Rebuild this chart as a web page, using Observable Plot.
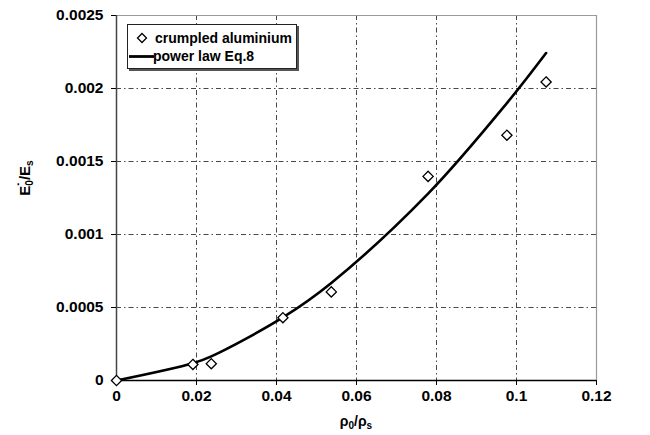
<!DOCTYPE html>
<html>
<head>
<meta charset="utf-8">
<script src="https://cdn.jsdelivr.net/npm/d3@7"></script>
<script src="https://cdn.jsdelivr.net/npm/@observablehq/plot@0.6"></script>
<style>
  html, body { margin: 0; padding: 0; background: #fff; }
  #wrap { position: relative; width: 650px; height: 435px; font-family: "Liberation Sans", Arial, sans-serif; }
  #legend {
    position: absolute; left: 127px; top: 24px; width: 168px; height: 43px;
    background: #fff; border: 1px solid #222; box-shadow: 2px 2px 0 #555;
    font-size: 14px; font-weight: bold; color: #000;
  }
  #legend .row { position: absolute; left: 0; height: 18px; line-height: 18px; white-space: nowrap; }
  #legend svg { position: absolute; top: 0; }
  #legend span { position: absolute; }
</style>
</head>
<body>
<div id="wrap"></div>
<script>
// Axis ticks and their printed labels
const xTicks = [0, 0.02, 0.04, 0.06, 0.08, 0.1, 0.12];
const xTickLabels = ["0", "0.02", "0.04", "0.06", "0.08", "0.1", "0.12"];
const yTicks = [0, 0.0005, 0.001, 0.0015, 0.002, 0.0025];
const yTickLabels = ["0", "0.0005", "0.001", "0.0015", "0.002", "0.0025"];

// Measured relative modulus vs relative density (crumpled aluminium)
const density = [0, 0.0191, 0.0237, 0.0416, 0.0537, 0.0779, 0.0976, 0.1074];
const modulus = [0, 0.00011, 0.000115, 0.00043, 0.000607, 0.001398, 0.00168, 0.002045];

// Power law (Eq. 8) evaluated at the same densities
const fitDensity = [0, 0.0191, 0.0237, 0.0416, 0.0537, 0.0779, 0.0976, 0.1074];
const fitModulus = [0, 0.000118, 0.000165, 0.000432, 0.000668, 0.00128, 0.0019, 0.002243];

const points = density.map((x, i) => ({x, y: modulus[i]}));
const fit = fitDensity.map((x, i) => ({x, y: fitModulus[i]}));

const xLabel = new Map(xTicks.map((d, i) => [d, xTickLabels[i]]));
const yLabel = new Map(yTicks.map((d, i) => [d, yTickLabels[i]]));

const dashDot = "5,3,1.5,3";

const chart = Plot.plot({
  width: 650,
  height: 435,
  marginLeft: 116,
  marginRight: 54,
  marginTop: 15,
  marginBottom: 55,
  style: {
    fontFamily: "'Liberation Sans', Arial, sans-serif",
    fontWeight: "bold",
    color: "#000",
    background: "#fff",
    overflow: "visible"
  },
  x: {domain: [0, 0.12]},
  y: {domain: [0, 0.0025]},
  marks: [
    Plot.gridX(xTicks, {stroke: "#333", strokeOpacity: 1, strokeWidth: 0.9, strokeDasharray: dashDot}),
    Plot.gridY(yTicks, {stroke: "#333", strokeOpacity: 1, strokeWidth: 0.9, strokeDasharray: dashDot}),
    Plot.ruleX([0.12], {stroke: "#9a9a9a", strokeWidth: 1.2}),
    Plot.ruleY([0.0025], {stroke: "#9a9a9a", strokeWidth: 1.2}),
    Plot.axisX(xTicks, {tickFormat: d => xLabel.get(d), tickSize: 5, tickPadding: 4, label: null, stroke: "#000"}),
    Plot.axisY(yTicks, {tickFormat: d => yLabel.get(d), tickSize: 5, tickPadding: 8, label: null, stroke: "#000"}),
    Plot.ruleX([0], {stroke: "#444", strokeWidth: 1.5}),
    Plot.ruleY([0], {stroke: "#000", strokeWidth: 1.5}),
    Plot.line(fit, {x: "x", y: "y", curve: "catmull-rom", stroke: "#000", strokeWidth: 2.6}),
    Plot.dot(points, {x: "x", y: "y", symbol: "diamond2", r: 4.6, fill: "#fff", stroke: "#000", strokeWidth: 1.3})
  ]
});

const svg = d3.select(chart);
// tick labels: bold, slightly larger than the legend text
svg.selectAll("[aria-label$='tick label'] text")
  .style("font-family", "'Liberation Sans', Arial, sans-serif")
  .style("font-weight", "bold")
  .style("font-size", "15.5px");

// x-axis title: ρ0/ρs
const xt = svg.append("text")
  .attr("x", 356).attr("y", 426)
  .attr("text-anchor", "middle")
  .style("font-size", "14px").style("font-weight", "bold");
xt.append("tspan").text("ρ");
xt.append("tspan").attr("dy", 3).style("font-size", "10px").text("0");
xt.append("tspan").attr("dy", -3).text("/ρ");
xt.append("tspan").attr("dy", 3).style("font-size", "10px").text("s");

// y-axis title: Ė0/Es
const yt = svg.append("text")
  .attr("transform", "translate(30,178) rotate(-90)")
  .attr("text-anchor", "middle")
  .style("font-size", "15px").style("font-weight", "bold");
yt.append("tspan").text("E");
yt.append("tspan").attr("dx", -1).attr("dy", -2).text("˙");
yt.append("tspan").attr("dx", -4).attr("dy", 5).style("font-size", "10px").text("0");
yt.append("tspan").attr("dy", -3).text("/E");
yt.append("tspan").attr("dy", 3).style("font-size", "10px").text("s");

const wrap = document.getElementById("wrap");
wrap.appendChild(chart);

// Legend box
const legend = document.createElement("div");
legend.id = "legend";
legend.innerHTML = `
  <div class="row" style="top:4px;width:168px">
    <svg width="14" height="18" style="left:7px"><path d="M7,4.5 L11.5,9 L7,13.5 L2.5,9 Z" fill="#fff" stroke="#000" stroke-width="1.3"/></svg>
    <span style="left:27px">crumpled aluminium</span>
  </div>
  <div class="row" style="top:22px;width:168px">
    <svg width="26" height="18" style="left:1px"><line x1="0" y1="9.5" x2="25" y2="9.5" stroke="#000" stroke-width="2.8"/></svg>
    <span style="left:25px">power law Eq.8</span>
  </div>`;
wrap.appendChild(legend);
</script>
</body>
</html>
